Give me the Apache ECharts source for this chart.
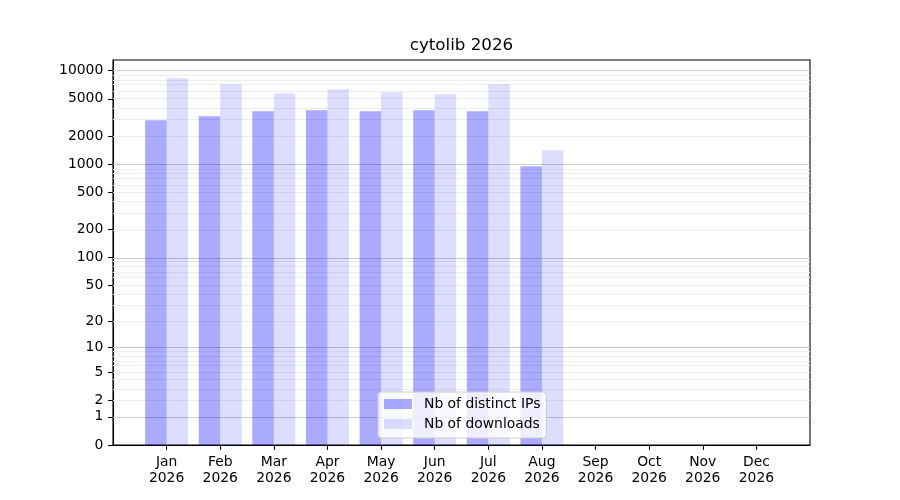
<!DOCTYPE html>
<html>
<head>
<meta charset="utf-8">
<script src="https://cdn.jsdelivr.net/npm/echarts@6/dist/echarts.min.js"></script>
<style>html,body{margin:0;padding:0;background:#fff}#c{width:900px;height:500px}</style>
</head>
<body>
<div id="c"></div>
<script>
const titleText = 'cytolib 2026';
const months = ['Jan','Feb','Mar','Apr','May','Jun','Jul','Aug','Sep','Oct','Nov','Dec'];
const year = '2026';
const ipCounts = [2950, 3250, 3680, 3770, 3680, 3770, 3680, 950];
const downloadCounts = [8280, 7150, 5730, 6320, 5870, 5580, 7150, 1410];
const yTickValues = [0, 1, 2, 5, 10, 20, 50, 100, 200, 500, 1000, 2000, 5000, 10000];
const majorGridValues = [1, 10, 100, 1000, 10000];
const minorMultipliers = [2, 3, 4, 5, 6, 7, 8, 9];
const seriesNames = ['Nb of distinct IPs', 'Nb of downloads'];

const tf = v => Math.log10(1 + v);
const inv = t => Math.round(Math.pow(10, t) - 1);

const dataMax = Math.max(...ipCounts, ...downloadCounts);
const yMax = tf(dataMax) * 1.05;

const minorGridValues = [];
[1, 10, 100, 1000, 10000].forEach(d => minorMultipliers.forEach(m => {
  if (tf(m * d) < yMax) minorGridValues.push(m * d);
}));

const monthPos = months.map((m, i) => i + 1);
const font = 'DejaVu Sans';

const gridLines = [
  ...minorGridValues.map(v => ({ yAxis: tf(v), lineStyle: { color: '#eeeeee', width: 1, type: 'solid' } })),
  ...majorGridValues.map(v => ({ yAxis: tf(v), lineStyle: { color: '#cccccc', width: 1.1, type: 'solid' } }))
];

const chart = echarts.init(document.getElementById('c'), null, { renderer: 'canvas' });
chart.setOption({
  animation: false,
  backgroundColor: '#ffffff',
  title: {
    text: titleText,
    left: 461.5,
    textAlign: 'center',
    top: 37,
    padding: 0,
    textStyle: { fontFamily: font, fontSize: 16.7, fontWeight: 'normal', color: '#000' }
  },
  grid: {
    left: 113, right: 90, top: 60, bottom: 55,
    show: true, borderColor: '#000', borderWidth: 1.1, backgroundColor: 'transparent'
  },
  legend: {
    orient: 'vertical',
    left: 378,
    top: 392,
    padding: [5, 6, 7, 6],
    itemGap: 6,
    itemWidth: 28,
    itemHeight: 10,
    icon: 'rect',
    backgroundColor: 'rgba(255,255,255,0.8)',
    borderColor: '#cccccc',
    borderWidth: 1,
    borderRadius: 3,
    z: 10,
    data: seriesNames,
    textStyle: { fontFamily: font, fontSize: 13.9, color: '#000', padding: [0, 0, 0, 7] }
  },
  xAxis: {
    type: 'value',
    min: 0,
    max: months.length + 1,
    splitLine: { show: false },
    axisLine: { show: true, onZero: false, lineStyle: { color: '#000', width: 1.1 } },
    axisTick: { show: true, customValues: monthPos, length: 4.9, lineStyle: { color: '#000', width: 1.1 } },
    axisLabel: {
      customValues: monthPos,
      margin: 9,
      fontFamily: font, fontSize: 13.9, color: '#000', lineHeight: 16,
      formatter: v => months[Math.round(v) - 1] + '\n' + year
    }
  },
  yAxis: {
    type: 'value',
    min: 0,
    max: yMax,
    splitLine: { show: false },
    axisLine: { show: true, onZero: false, lineStyle: { color: '#000', width: 1.1 } },
    axisTick: { show: true, customValues: yTickValues.map(tf), length: 4.9, lineStyle: { color: '#000', width: 1.1 } },
    axisLabel: {
      customValues: yTickValues.map(tf),
      margin: 9.7,
      fontFamily: font, fontSize: 13.9, color: '#000',
      formatter: v => String(inv(v))
    }
  },
  series: [
    {
      name: seriesNames[0],
      type: 'bar',
      barWidth: 21.5,
      barGap: '0%',
      z: 2,
      itemStyle: { color: 'rgba(0,0,255,0.333)' },
      data: ipCounts.map((v, i) => [monthPos[i], tf(v)]),
      markLine: {
        silent: true,
        symbol: 'none',
        z: 1,
        label: { show: false },
        emphasis: { disabled: true },
        data: gridLines
      }
    },
    {
      name: seriesNames[1],
      type: 'bar',
      barWidth: 21.5,
      barGap: '0%',
      z: 2,
      itemStyle: { color: 'rgba(0,0,255,0.133)' },
      data: downloadCounts.map((v, i) => [monthPos[i], tf(v)])
    }
  ]
});
</script>
</body>
</html>
